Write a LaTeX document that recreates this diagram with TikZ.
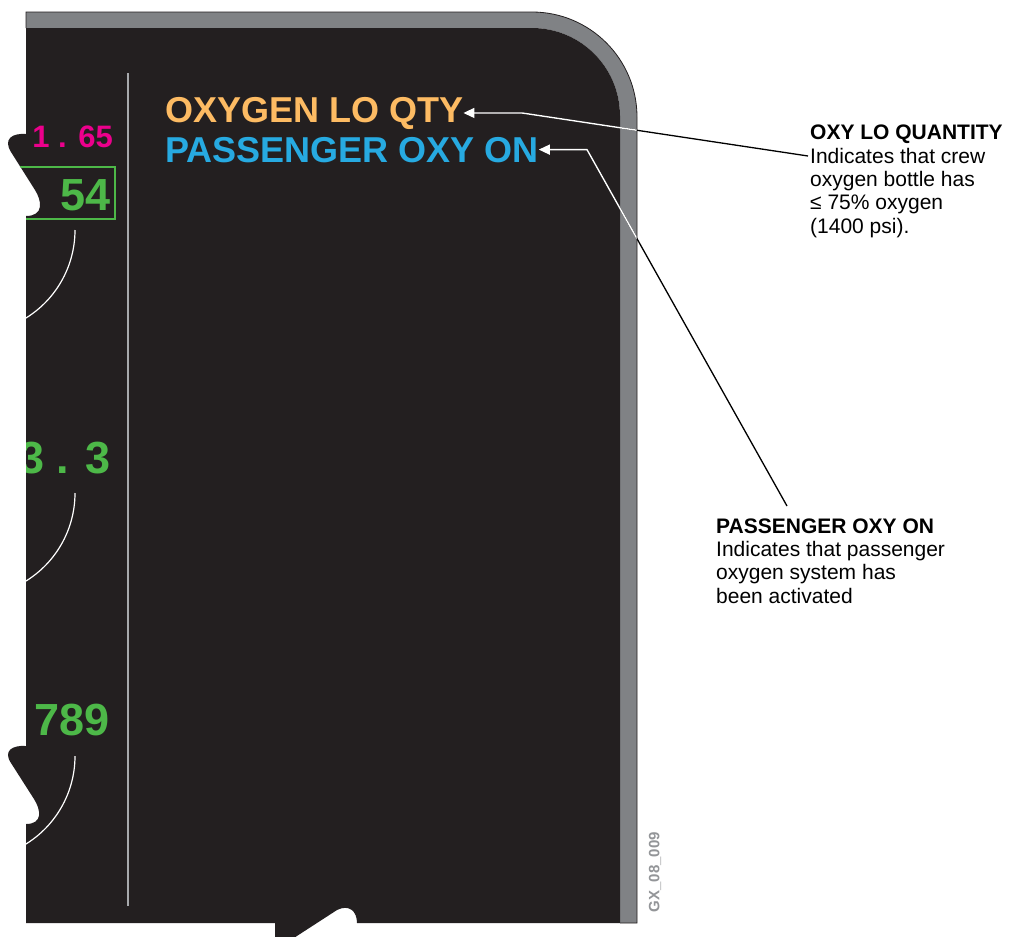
\documentclass[tikz,border=0pt]{standalone}
\usepackage{fontspec}
\setmainfont{Liberation Sans}
\usetikzlibrary{arrows.meta}
\definecolor{panel}{HTML}{231F20}
\definecolor{band}{HTML}{808285}
\definecolor{oxorange}{HTML}{FDBB63}
\definecolor{oxcyan}{HTML}{27AAE1}
\definecolor{oxmag}{HTML}{EC008C}
\definecolor{oxgreen}{HTML}{4DB848}
\definecolor{divider}{HTML}{A7A9AC}
\definecolor{tagcol}{HTML}{939598}
\begin{document}
\begin{tikzpicture}[x=1pt,y=-1pt,
  lbl/.style={inner sep=0pt, font=\fontsize{36}{40}\selectfont\bfseries, anchor=base west},
  num/.style={inner sep=0pt, text=oxgreen, font=\fontsize{45}{50}\selectfont\bfseries, anchor=base east},
  note/.style={inner sep=0pt, align=left, anchor=base west, font=\fontsize{21}{23.3}\selectfont},
  callout/.style={line width=1.3pt},
  dial/.style={white, line width=1.2pt},
  tipstyle/.style={-{Triangle[length=11pt,width=10pt]}},
]
\useasboundingbox (0,0) rectangle (1011,937);
\clip (0,0) rectangle (1011,937);
\fill[white] (0,0) rectangle (1011,937);
% grey frame band
\fill[band] (26,12) -- (532,12) arc[start angle=90,end angle=0,radius=105pt] -- (637,923) -- (620,923) -- (620,116) arc[start angle=0,end angle=90,radius=88pt] -- (26,28) -- cycle;
\draw[panel, line width=0.8pt] (26,28) -- (26,12) -- (532,12) arc[start angle=90,end angle=0,radius=105pt] -- (637,923) -- (620,923);
% dark display with torn edges
\begin{scope}
\clip (26,28) -- (26,134) .. controls (12,133) and (3,139) .. (11,152) -- (35,190) .. controls (42,201) and (44,216) .. (26,216) -- (26,746) .. controls (12,745) and (3,751) .. (11,763) -- (34,799) .. controls (41,810) and (43,824) .. (26,824) -- (26,923) -- (275,923) -- (275,945) -- (283,945) -- (337,910) .. controls (349,904) and (357,911) .. (357,923) -- (620,923) -- (620,116) arc[start angle=0,end angle=90,radius=88pt] -- cycle;
\fill[panel] (0,0) rectangle (1011,937);
\draw[divider, line width=1.5pt] (128,73) -- (128,906);
\draw[dial] (75,230) arc[start angle=0,end angle=-64,radius=103.5pt];
\draw[dial] (75,493) arc[start angle=0,end angle=-64,radius=103.5pt];
\draw[dial] (75,756) arc[start angle=0,end angle=-64,radius=103.5pt];
\node[num, text=oxmag, font=\fontsize{31}{34}\selectfont\bfseries] (n165) at (113,147) {1 . 65};
\node[num] (n54) at (111,210) {54};
\draw[oxgreen, line width=1.2pt] (20,167) rectangle (115,219);
\node[num] (n33) at (111,473) {3 . 3};
\node[num] (n789) at (110,735) {789};
\node[lbl, text=oxorange] (oxlo) at (165,122) {OXYGEN LO QTY};
\node[lbl, text=oxcyan] (paxon) at (165,162) {PASSENGER OXY ON};
\end{scope}
% callouts
\coordinate (k1) at (522,0);
\coordinate (e1) at (808,156);
\coordinate (k2) at (587,0);
\coordinate (e2) at (787,506);
\draw[callout, black] (e1) -- (oxlo.east -| k1);
\draw[callout, black] (e2) -- (paxon.east -| k2);
\begin{scope}
\clip (0,0) rectangle (636.5,937);
\draw[callout, white, line width=1.4pt, tipstyle] (e1) -- (oxlo.east -| k1) -- (oxlo.east);
\draw[callout, white, line width=1.4pt, tipstyle] (e2) -- (paxon.east -| k2) -- (paxon.east);
\end{scope}
% notes (base = last line)
\node[note] (q1) at (810,233) {\textbf{OXY LO QUANTITY}\\Indicates that crew\\oxygen bottle has\\≤ 75\% oxygen\\(1400 psi).};
\node[note] (q2) at (716,603) {\textbf{PASSENGER OXY ON}\\Indicates that passenger\\oxygen system has\\been activated};
\node[rotate=90, text=tagcol, inner sep=0pt, font=\fontsize{15}{17}\selectfont\bfseries] (tagid) at (655,872) {GX\_08\_009};
\end{tikzpicture}
\end{document}
